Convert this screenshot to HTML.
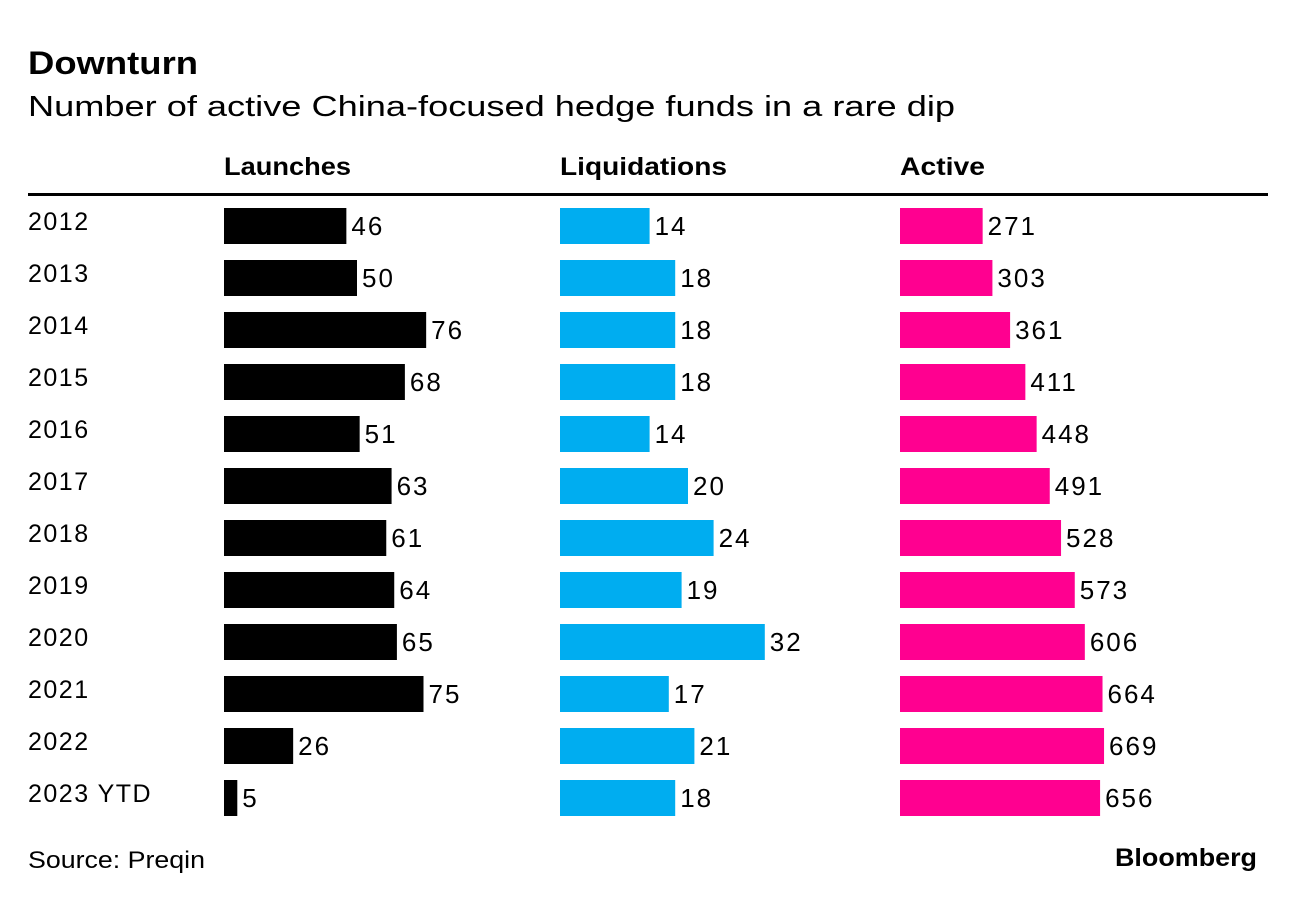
<!DOCTYPE html>
<html><head><meta charset="utf-8"><style>
body{margin:0;background:#fff;width:1296px;height:902px;overflow:hidden;font-family:"Liberation Sans",sans-serif;}
svg text{font-family:"Liberation Sans",sans-serif;}
</style></head><body>
<svg width="1296" height="902">
<text x="28" y="74" font-size="32" font-weight="bold" fill="#000" textLength="170" lengthAdjust="spacingAndGlyphs">Downturn</text>
<text x="28" y="116" font-size="29" fill="#000" textLength="927" lengthAdjust="spacingAndGlyphs">Number of active China-focused hedge funds in a rare dip</text>
<text x="224" y="175" font-size="25" font-weight="bold" textLength="127" lengthAdjust="spacingAndGlyphs">Launches</text>
<text x="560" y="175" font-size="25" font-weight="bold" textLength="167" lengthAdjust="spacingAndGlyphs">Liquidations</text>
<text x="900" y="175" font-size="25" font-weight="bold" textLength="85" lengthAdjust="spacingAndGlyphs">Active</text>
<rect x="28" y="193" width="1240" height="3" fill="#000"/>
<g id="rows"></g>
<text x="28" y="868" font-size="24" textLength="177" lengthAdjust="spacingAndGlyphs">Source: Preqin</text>
<text x="1257" y="866" font-size="25" font-weight="bold" text-anchor="end" textLength="142" lengthAdjust="spacingAndGlyphs">Bloomberg</text>
</svg>
<script>
const years=["2012","2013","2014","2015","2016","2017","2018","2019","2020","2021","2022","2023 YTD"];
const launches=[46,50,76,68,51,63,61,64,65,75,26,5];
const liquidations=[14,18,18,18,14,20,24,19,32,17,21,18];
const active=[271,303,361,411,448,491,528,573,606,664,669,656];
const ns="http://www.w3.org/2000/svg";
const g=document.getElementById('rows');
const cols=[
 {data:launches,x0:224,scale:v=>v*2.66,color:"#000",name:"launches"},
 {data:liquidations,x0:560,scale:v=>v*6.4,color:"#00adf0",name:"liquidations"},
 {data:active,x0:900,scale:v=>v*0.305,color:"#ff0090",name:"active"}];
const rowY=i=>208+i*52;
years.forEach((y,i)=>{
 const t=document.createElementNS(ns,'text');
 t.setAttribute('x',28);t.setAttribute('y',rowY(i)+22);t.setAttribute('font-size','25');
 t.setAttribute('letter-spacing','1.5');
 t.textContent=y;
 
 
 g.appendChild(t);
 cols.forEach(c=>{
  const v=c.data[i],w=c.scale(v);
  const r=document.createElementNS(ns,'rect');
  r.setAttribute('x',c.x0);r.setAttribute('y',rowY(i));r.setAttribute('width',w);r.setAttribute('height',36);r.setAttribute('fill',c.color);
  
  
  g.appendChild(r);
  const l=document.createElementNS(ns,'text');
  l.setAttribute('x',c.x0+w+5);l.setAttribute('y',rowY(i)+27);l.setAttribute('font-size','26');
  l.setAttribute('letter-spacing','2');
  l.textContent=v;
  
  
  g.appendChild(l);
 });
});
</script>
</body></html>
